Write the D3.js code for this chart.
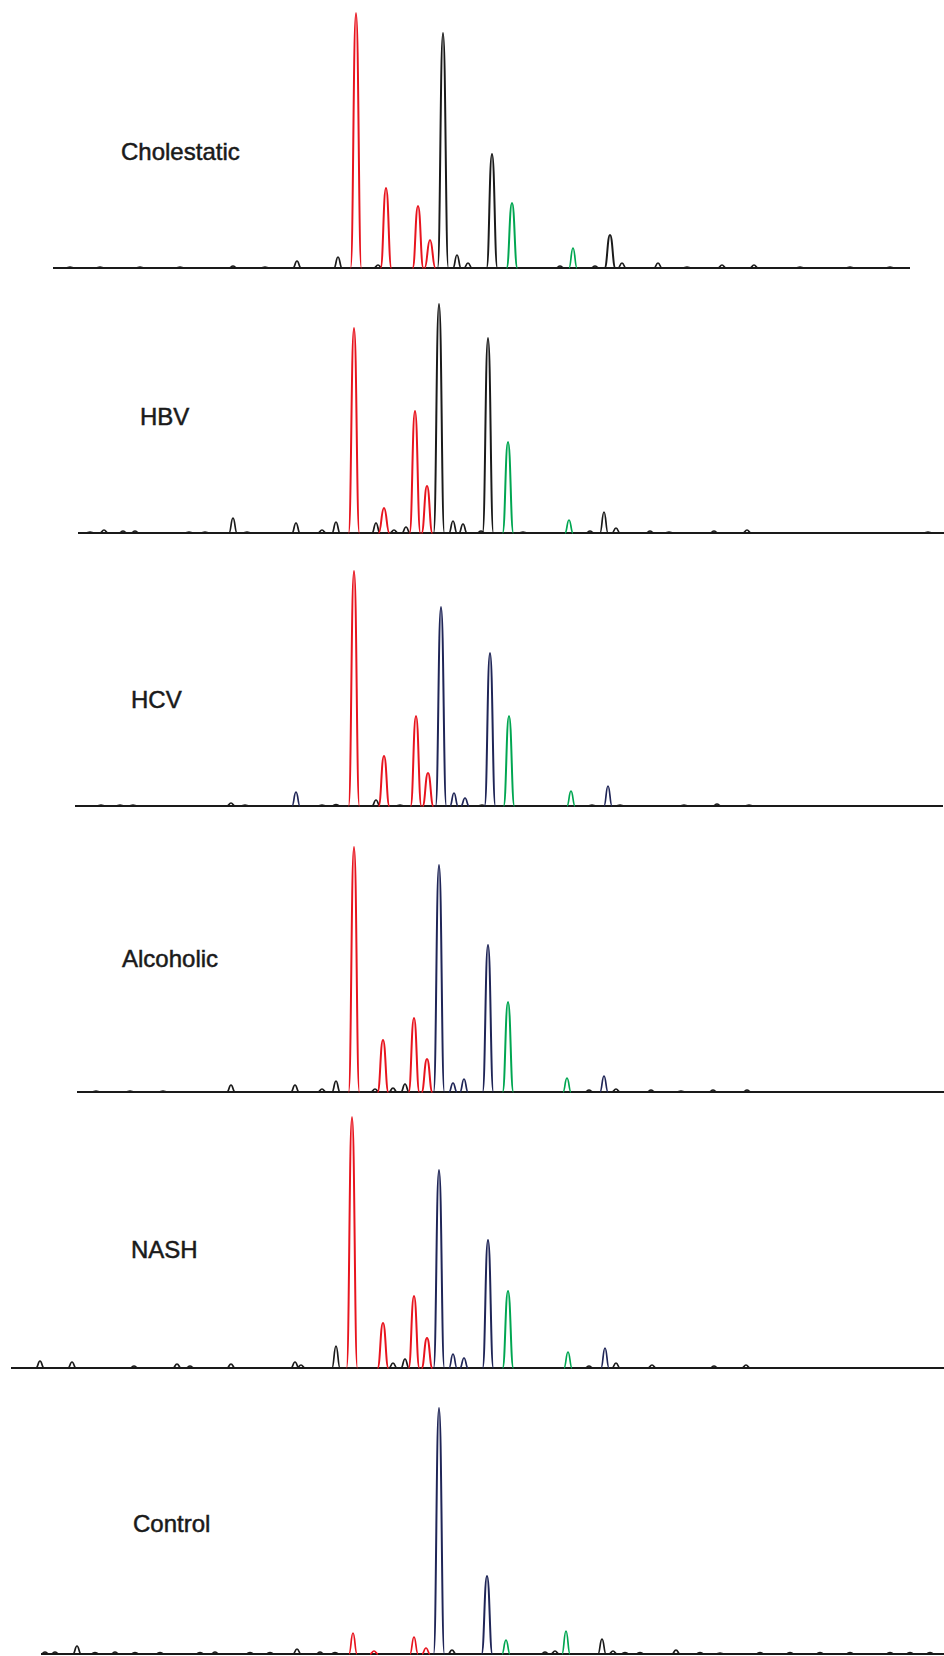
<!DOCTYPE html>
<html>
<head>
<meta charset="utf-8">
<script src="https://cdn.jsdelivr.net/npm/d3@7"></script>
<style>
  html, body { margin: 0; padding: 0; background: #fff; }
  svg { display: block; }
  .label { font-family: 'Liberation Sans', Arial, sans-serif; font-size: 24px; fill: #1a1a1a; stroke: #1a1a1a; stroke-width: 0.5px; }
</style>
</head>
<body>
<svg id="chart" width="944" height="1656"></svg>
<script>
// Sample names, top to bottom
const samples = ['Cholestatic', 'HBV', 'HCV', 'Alcoholic', 'NASH', 'Control']

// Peaks per sample : [retention time (min), intensity, colour key]
// colour keys : r = red, g = green, k = black, n = navy
const cholestaticPeaks = [
  [3.5, 4, 'k'], [5.0, 4, 'k'], [7.0, 4, 'k'], [9.0, 4, 'k'], [11.65, 8, 'k'], [13.25, 4, 'k'],
  [14.85, 28, 'k'], [16.9, 44, 'k'], [17.8, 1020, 'r'], [18.9, 12, 'k'], [19.3, 320, 'r'],
  [20.9, 248, 'r'], [21.5, 112, 'r'], [22.15, 940, 'k'], [22.85, 52, 'k'], [23.4, 20, 'k'],
  [24.6, 456, 'k'], [25.6, 260, 'g'], [28.0, 8, 'k'], [28.65, 80, 'g'], [29.75, 8, 'k'],
  [30.5, 132, 'k'], [31.1, 20, 'k'], [32.9, 20, 'k'], [34.35, 4, 'k'], [36.1, 12, 'k'],
  [37.7, 12, 'k'], [40.0, 4, 'k'], [42.5, 4, 'k'], [44.5, 4, 'k']
]
const hbvPeaks = [
  [4.5, 4, 'k'], [5.2, 12, 'k'], [6.15, 8, 'k'], [6.75, 8, 'k'], [9.45, 4, 'k'], [10.25, 4, 'k'],
  [11.65, 60, 'k'], [12.35, 4, 'k'], [14.8, 40, 'k'], [16.1, 12, 'k'], [16.8, 44, 'k'],
  [17.7, 820, 'r'], [18.8, 40, 'k'], [19.2, 100, 'r'], [19.7, 12, 'k'], [20.3, 24, 'k'],
  [20.75, 488, 'r'], [21.35, 188, 'r'], [21.95, 916, 'k'], [22.65, 48, 'k'], [23.15, 36, 'k'],
  [24.05, 8, 'k'], [24.4, 780, 'k'], [25.4, 364, 'g'], [26.15, 4, 'k'], [28.45, 52, 'g'],
  [29.5, 8, 'k'], [30.2, 84, 'k'], [30.8, 20, 'k'], [32.5, 8, 'k'], [33.45, 4, 'k'],
  [35.7, 8, 'k'], [37.35, 12, 'k'], [46.4, 4, 'k']
]
const hcvPeaks = [
  [5.05, 4, 'k'], [6.0, 4, 'k'], [6.65, 4, 'k'], [11.55, 12, 'k'], [12.25, 4, 'k'],
  [14.8, 56, 'n'], [16.1, 4, 'k'], [16.8, 6, 'k'], [17.7, 940, 'r'], [18.8, 24, 'k'],
  [19.2, 200, 'r'], [20.0, 4, 'k'], [20.8, 360, 'r'], [21.4, 132, 'r'], [22.05, 796, 'n'],
  [22.7, 52, 'n'], [23.25, 32, 'n'], [24.1, 4, 'k'], [24.5, 612, 'n'], [25.45, 360, 'g'],
  [28.55, 60, 'g'], [29.6, 4, 'k'], [30.4, 80, 'n'], [31.0, 4, 'k'], [34.2, 4, 'k'],
  [35.85, 8, 'k'], [37.45, 4, 'k']
]
const alcoholicPeaks = [
  [4.8, 4, 'k'], [6.5, 4, 'k'], [8.15, 4, 'k'], [11.55, 28, 'k'], [14.75, 28, 'k'],
  [16.1, 12, 'k'], [16.8, 44, 'k'], [17.7, 980, 'r'], [18.75, 12, 'k'], [19.15, 208, 'r'],
  [19.65, 16, 'k'], [20.25, 32, 'k'], [20.7, 296, 'r'], [21.35, 132, 'r'], [21.95, 908, 'n'],
  [22.65, 36, 'n'], [23.2, 52, 'n'], [24.4, 588, 'n'], [25.4, 360, 'g'], [28.35, 56, 'g'],
  [29.45, 8, 'k'], [30.2, 64, 'n'], [30.8, 12, 'k'], [32.55, 8, 'k'], [34.05, 4, 'k'],
  [35.65, 8, 'k'], [37.35, 8, 'k']
]
const nashPeaks = [
  [2.0, 28, 'k'], [3.6, 24, 'k'], [6.7, 8, 'k'], [8.85, 16, 'k'], [9.5, 8, 'k'], [11.55, 16, 'k'],
  [14.75, 24, 'k'], [15.05, 12, 'k'], [16.8, 88, 'k'], [17.6, 1004, 'r'], [19.15, 180, 'r'],
  [19.65, 20, 'k'], [20.25, 36, 'k'], [20.7, 288, 'r'], [21.35, 120, 'r'], [21.95, 792, 'n'],
  [22.65, 56, 'n'], [23.2, 40, 'n'], [24.4, 512, 'n'], [25.4, 308, 'g'], [28.4, 64, 'g'],
  [29.45, 8, 'k'], [30.25, 80, 'n'], [30.8, 20, 'k'], [32.6, 12, 'k'], [35.7, 8, 'k'],
  [37.3, 12, 'k']
]
const controlPeaks = [
  [2.25, 8, 'k'], [2.75, 8, 'k'], [3.85, 32, 'k'], [4.75, 6, 'k'], [5.75, 8, 'k'], [6.75, 6, 'k'],
  [8.0, 6, 'k'], [10.0, 6, 'k'], [10.75, 8, 'k'], [12.5, 6, 'k'], [13.5, 6, 'k'], [14.85, 20, 'k'],
  [16.0, 8, 'k'], [16.75, 6, 'k'], [17.65, 84, 'r'], [18.7, 12, 'r'], [20.7, 68, 'r'],
  [21.3, 24, 'r'], [21.95, 984, 'n'], [22.6, 16, 'k'], [24.35, 312, 'n'], [25.3, 56, 'g'],
  [27.25, 8, 'k'], [27.75, 12, 'k'], [28.3, 92, 'g'], [30.1, 60, 'k'], [30.65, 12, 'k'],
  [31.25, 6, 'k'], [32.0, 6, 'k'], [33.8, 16, 'k'], [35.0, 6, 'k'], [36.0, 4, 'k'],
  [38.0, 6, 'k'], [39.5, 6, 'k'], [41.0, 6, 'k'], [42.5, 6, 'k'], [44.5, 6, 'k'],
  [45.5, 6, 'k'], [46.5, 6, 'k']
]
const peaksBySample = [cholestaticPeaks, hbvPeaks, hcvPeaks, alcoholicPeaks, nashPeaks, controlPeaks]

// Start and end of each recorded trace (min)
const traceStart = [2.65, 3.9, 3.75, 3.85, 0.55, 2.05]
const traceEnd = [45.5, 47.2, 47.15, 47.2, 47.2, 47.2]

// Layout (pixels)
const baselines = [268, 533, 806, 1092, 1368, 1654]
const labelPos = [[121, 160], [140, 425], [131, 708], [122, 967], [131, 1258], [133, 1532]]
const colours = { r: '#e8141e', g: '#00a651', k: '#1a1a1a', n: '#1f2557' }

const svg = d3.select('#chart')
svg.append('rect').attr('width', 944).attr('height', 1656).attr('fill', '#fff')

const x = d3.scaleLinear().domain([0, 47.2]).range([0, 944])
const y = d3.scaleLinear().domain([0, 1000]).range([0, 250])

const peakLine = d3.line()
  .x(d => x(d[0]))
  .y(d => -y(d[1]))
  .curve(d3.curveBumpX)

/**
 * Draws one chromatogram trace : its baseline, its peaks and its label.
 *
 * @param {number} i The index of the sample
 */
function drawTrace (i) {
  const g = svg.append('g')
    .attr('class', 'trace')
    .attr('transform', 'translate(0,' + baselines[i] + ')')

  g.append('path')
    .attr('d', peakLine([[traceStart[i], 0], [traceEnd[i], 0]]))
    .attr('stroke', colours.k)
    .attr('stroke-width', 2)
    .attr('fill', 'none')

  g.selectAll('.peak')
    .data(peaksBySample[i])
    .join('path')
    .attr('class', 'peak')
    .attr('d', p => {
      const w = p[1] >= 100 ? 0.27 : 0.2
      return peakLine([[p[0] - w, 0], [p[0], p[1]], [p[0] + w, 0]])
    })
    .attr('stroke', p => colours[p[2]])
    .attr('stroke-width', p => p[1] >= 100 ? 2 : 1.7)
    .attr('stroke-linejoin', 'round')
    .attr('fill', 'none')

  svg.append('text')
    .attr('class', 'label')
    .attr('x', labelPos[i][0])
    .attr('y', labelPos[i][1])
    .text(samples[i])
}

samples.forEach((s, i) => drawTrace(i))
</script>
</body>
</html>
